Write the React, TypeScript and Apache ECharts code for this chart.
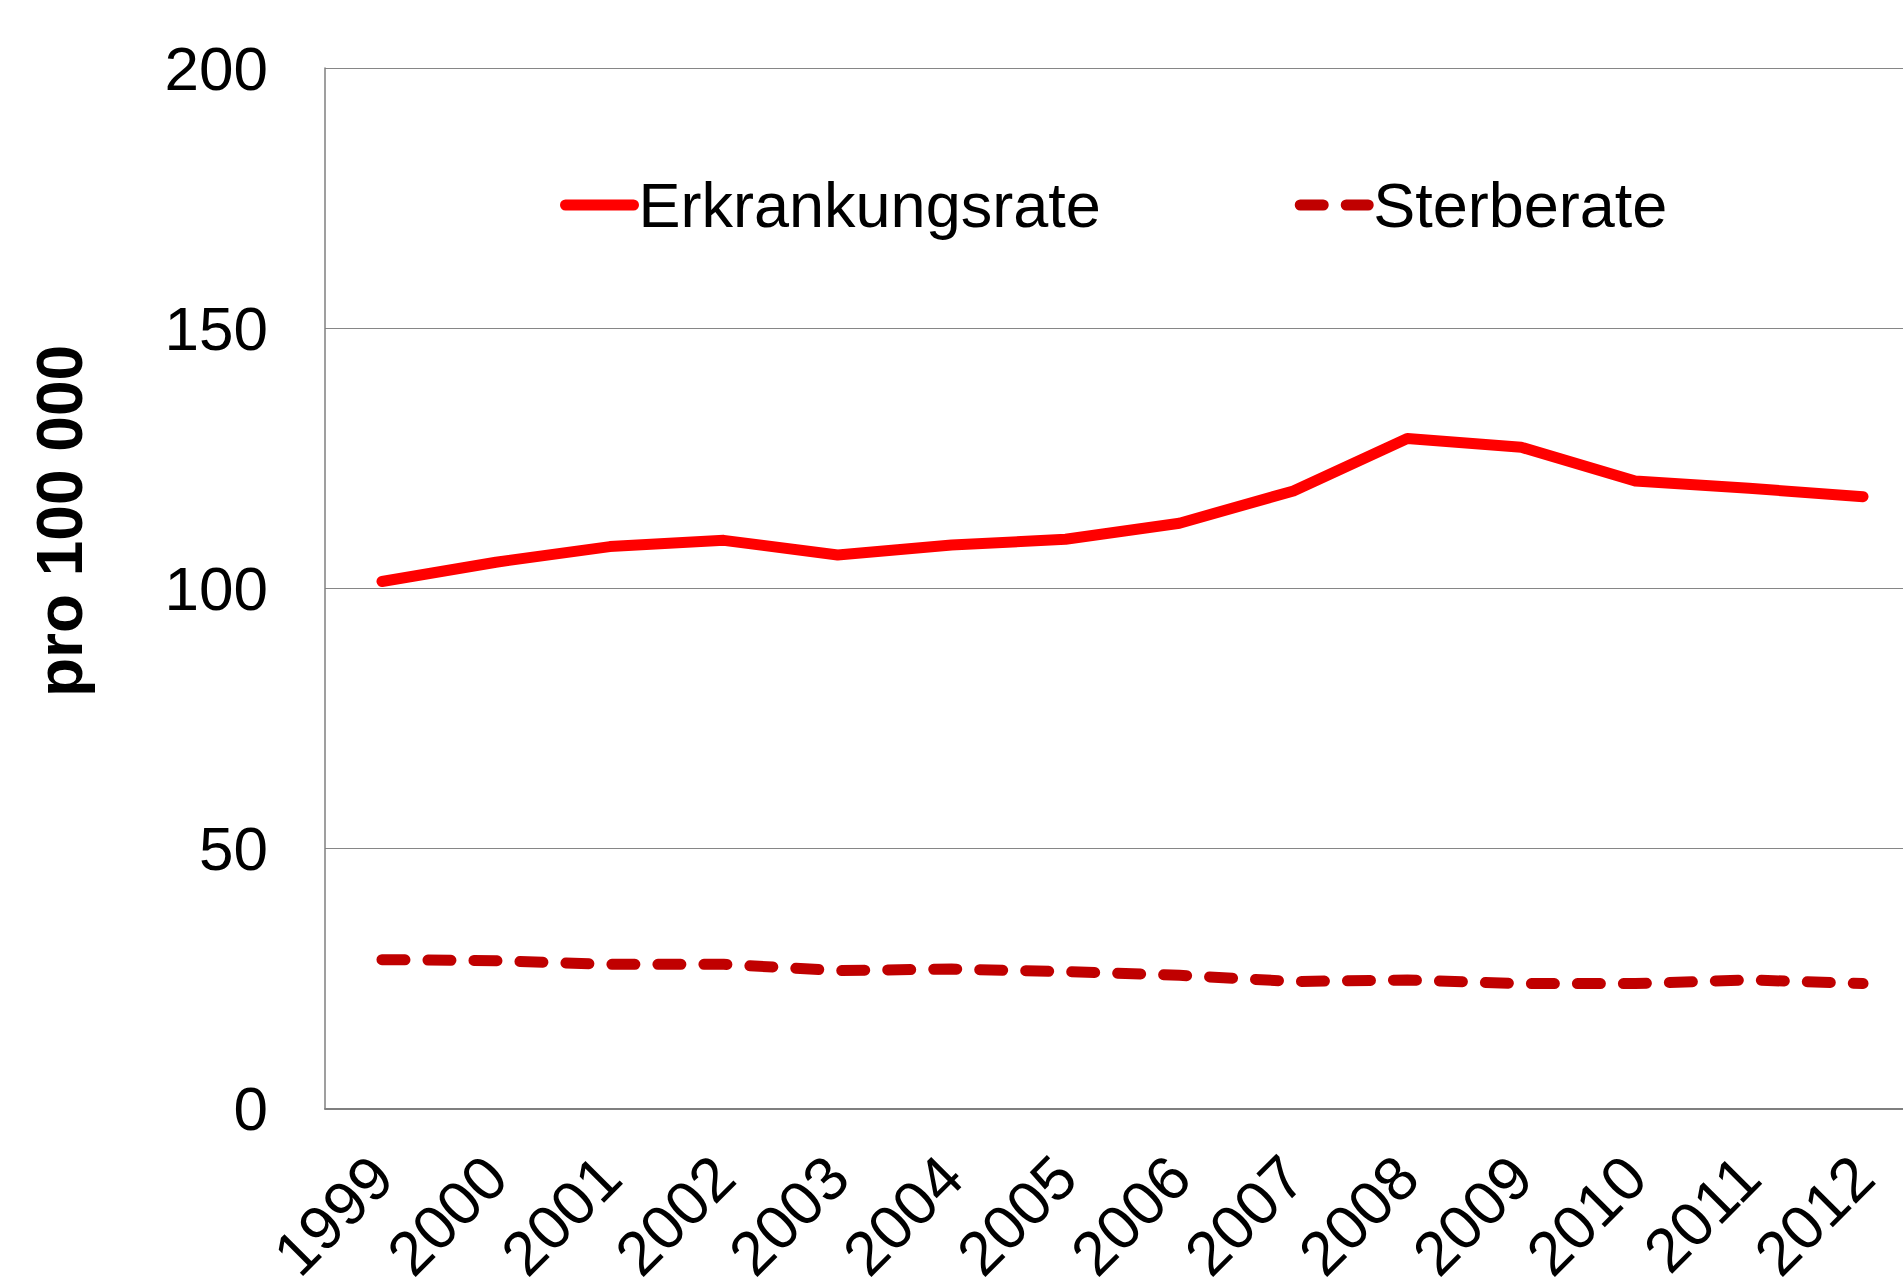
import React, { useEffect, useRef } from "react";
import * as echarts from "echarts";

const years = ["1999", "2000", "2001", "2002", "2003", "2004", "2005", "2006", "2007", "2008", "2009", "2010", "2011", "2012"];
const erkrankungsrate = [101.3, 105.0, 108.0, 109.2, 106.4, 108.3, 109.4, 112.5, 118.7, 128.8, 127.1, 120.6, 119.2, 117.6];
const sterberate = [28.6, 28.4, 27.7, 27.7, 26.5, 26.8, 26.3, 25.6, 24.4, 24.7, 24.0, 24.0, 24.7, 24.0];
const yTicks = { min: 0, max: 200, interval: 50 };
const yTitle = "pro 100 000";
const seriesNames = ["Erkrankungsrate", "Sterberate"];

const FONT = '"Liberation Sans", Arial, Helvetica, sans-serif';

export default function App() {
  const ref = useRef<HTMLDivElement>(null);
  useEffect(() => {
    if (!ref.current) return;
    const chart = echarts.init(ref.current, undefined, { renderer: "svg" });
    chart.setOption({
      animation: false,
      backgroundColor: "#ffffff",
      textStyle: { fontFamily: FONT },
      grid: { left: 325, right: 0, top: 68, bottom: 177, containLabel: false },
      legend: {
        left: 555,
        top: 165,
        itemWidth: 68,
        itemHeight: 20,
        itemGap: 194,
        itemStyle: { opacity: 0 },
        lineStyle: { width: 11, cap: "round" },
        textStyle: { fontSize: 63, color: "#000", fontFamily: FONT, lineHeight: 70 },
        data: seriesNames,
      },
      xAxis: {
        type: "category",
        data: years,
        boundaryGap: true,
        axisLine: { show: true, lineStyle: { color: "#7f7f7f", width: 2 } },
        axisTick: { show: false },
        axisLabel: {
          interval: 0,
          rotate: 45,
          margin: 58,
          padding: [76, 0, 0, 0],
          fontSize: 62,
          color: "#000",
          fontFamily: FONT,
        },
        splitLine: { show: false },
      },
      yAxis: {
        type: "value",
        min: yTicks.min,
        max: yTicks.max,
        interval: yTicks.interval,
        axisLine: { show: true, lineStyle: { color: "#7f7f7f", width: 1.5 } },
        axisTick: { show: false },
        axisLabel: { margin: 57, fontSize: 62, color: "#000", fontFamily: FONT },
        splitLine: { show: true, lineStyle: { color: "#868686", width: 1 } },
      },
      graphic: [
        {
          type: "text",
          x: 60,
          y: 521,
          rotation: Math.PI / 2,
          style: {
            text: yTitle,
            fontSize: 64,
            fontWeight: "bold",
            fontFamily: FONT,
            fill: "#000",
            align: "center",
            verticalAlign: "middle",
          },
        },
      ],
      series: [
        {
          name: seriesNames[0],
          type: "line",
          data: erkrankungsrate,
          showSymbol: false,
          symbol: "none",
          lineStyle: { color: "#ff0000", width: 11, cap: "round", join: "round" },
          itemStyle: { color: "#ff0000" },
        },
        {
          name: seriesNames[1],
          type: "line",
          data: sterberate,
          showSymbol: false,
          symbol: "none",
          lineStyle: { color: "#c00000", width: 11, type: [23, 23], cap: "round", join: "round" },
          itemStyle: { color: "#c00000" },
        },
      ],
    });
    return () => chart.dispose();
  }, []);
  return (
    <div style={{ position: "absolute", left: 0, top: 0, width: 1903, height: 1288, overflow: "hidden", background: "#fff" }}>
      <div ref={ref} style={{ position: "absolute", left: 0, top: 0, width: 1920, height: 1288 }} />
    </div>
  );
}
